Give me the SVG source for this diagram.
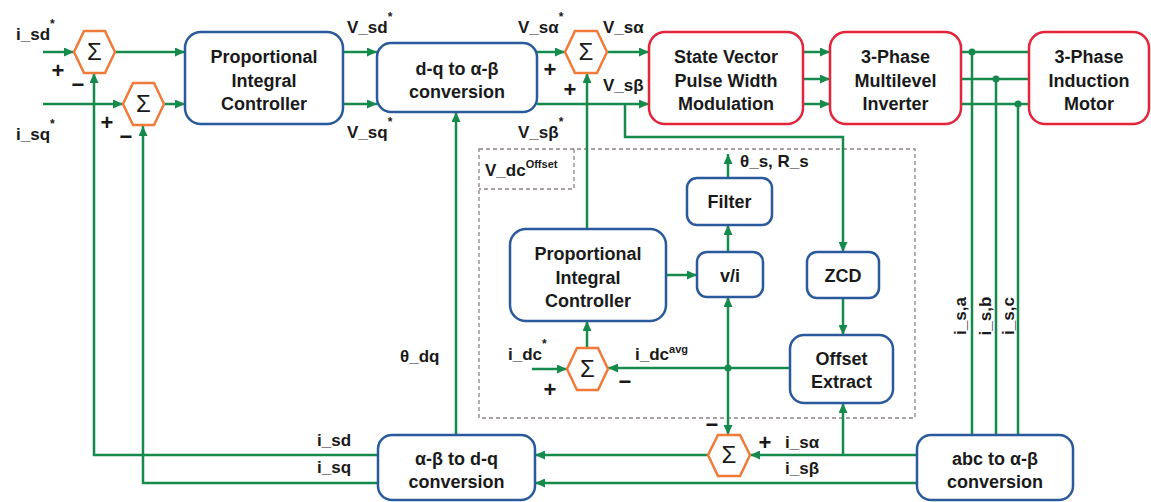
<svg xmlns="http://www.w3.org/2000/svg" width="1151" height="502" viewBox="0 0 1151 502">
<style>
.bb{fill:#fff;stroke:#2b5a9c;stroke-width:2.5}
.rb{fill:#fff;stroke:#e3243a;stroke-width:2.5}
.hx{fill:#fff;stroke:#f07a38;stroke-width:2.5}
.ln{fill:none;stroke:#168a4c;stroke-width:2.5}
.ar{marker-end:url(#ah)}
.t{font-family:"Liberation Sans",Arial,sans-serif;font-weight:bold;font-size:18px;fill:#1a1a1a;text-anchor:middle}
.l{font-family:"Liberation Sans",Arial,sans-serif;font-weight:bold;font-size:17px;fill:#1a1a1a}
.pm{font-family:"Liberation Sans",Arial,sans-serif;font-weight:bold;font-size:22px;fill:#1a1a1a;text-anchor:middle}
.s{font-family:"Liberation Sans",Arial,sans-serif;font-size:24px;fill:#1a1a1a;text-anchor:middle}
.dot{fill:#168a4c}
.dash{fill:none;stroke:#8f8288;stroke-width:1.3;stroke-dasharray:4 3}
</style>
<defs>
<marker id="ah" markerUnits="userSpaceOnUse" markerWidth="10" markerHeight="9" refX="10" refY="4.5" orient="auto">
<path d="M0,0 L10,4.5 L0,9 z" fill="#168a4c"/>
</marker>
</defs>

<g id="dashed-region">
<rect class="dash" x="479" y="149" width="436" height="269"/>
<path class="dash" d="M574,149 V189 H479"/>
<text class="l" x="485" y="176">V_dc<tspan font-size="11" dy="-8">Offset</tspan></text>
</g>

<g id="connectors">
<path class="ln ar" d="M43,52 H74"/>
<path class="ln ar" d="M43,104 H123"/>
<path class="ln ar" d="M115,52 H185"/>
<path class="ln ar" d="M164,104 H185"/>
<path class="ln ar" d="M343,52 H377"/>
<path class="ln ar" d="M343,104 H377"/>
<path class="ln ar" d="M537,52 H565"/>
<path class="ln ar" d="M607,52 H649"/>
<path class="ln ar" d="M537,104 H649"/>
<path class="ln ar" d="M625,104 V137 H843 V252"/>
<path class="ln ar" d="M803,52 H830"/>
<path class="ln ar" d="M803,79 H830"/>
<path class="ln ar" d="M803,104 H830"/>
<path class="ln" d="M961,52 H1029"/>
<path class="ln" d="M961,79 H1029"/>
<path class="ln" d="M961,104 H1029"/>
<path class="ln" d="M972,52 V435"/>
<path class="ln" d="M996,79 V435"/>
<path class="ln" d="M1018,104 V435"/>
<path class="ln ar" d="M378,455 H94 V73"/>
<path class="ln ar" d="M378,483 H143 V126"/>
<path class="ln ar" d="M456,435 V112"/>
<path class="ln ar" d="M587,229 V73"/>
<path class="ln ar" d="M666,275 H697"/>
<path class="ln ar" d="M728,252 V225"/>
<path class="ln ar" d="M728,178 V154"/>
<path class="ln ar" d="M843,298 V335"/>
<path class="ln ar" d="M790,368 H608"/>
<path class="ln ar" d="M532,369 H567"/>
<path class="ln ar" d="M587,348 V321"/>
<path class="ln ar" d="M728,368 V297"/>
<path class="ln ar" d="M728,368 V435"/>
<path class="ln ar" d="M917,455 H750"/>
<path class="ln ar" d="M843,455 V403"/>
<path class="ln ar" d="M708,455 H535"/>
<path class="ln ar" d="M917,483 H535"/>
<circle class="dot" cx="972" cy="52" r="3.5"/>
<circle class="dot" cx="996" cy="79" r="3.5"/>
<circle class="dot" cx="1018" cy="104" r="3.5"/>
<circle class="dot" cx="728" cy="368" r="3.5"/>
</g>

<g id="sum1"><polygon class="hx" points="74,52 84,31 105,31 115,52 105,73 84,73"/><text class="s" x="94.5" y="60">Σ</text></g>
<g id="sum2"><polygon class="hx" points="123,104 133,83 154,83 164,104 154,125 133,125"/><text class="s" x="143.5" y="112">Σ</text></g>
<g id="sum3"><polygon class="hx" points="565,52 575,31 597,31 607,52 597,73 575,73"/><text class="s" x="586" y="60">Σ</text></g>
<g id="sum4"><polygon class="hx" points="708,455 718,435 740,435 750,455 740,476 718,476"/><text class="s" x="729" y="463">Σ</text></g>
<g id="sum5"><polygon class="hx" points="567,369 577,348 598,348 608,369 598,390 577,390"/><text class="s" x="587.5" y="377">Σ</text></g>

<g id="pi1"><rect class="bb" x="185" y="32" width="158" height="92" rx="16"/>
<text class="t" x="264" y="63">Proportional</text><text class="t" x="264" y="87">Integral</text><text class="t" x="264" y="110">Controller</text></g>
<g id="dq2ab"><rect class="bb" x="377" y="43" width="160" height="69" rx="14"/>
<text class="t" x="457" y="75">d-q to α-β</text><text class="t" x="457" y="98">conversion</text></g>
<g id="svpwm"><rect class="rb" x="649" y="32" width="154" height="92" rx="16"/>
<text class="t" x="726" y="63">State Vector</text><text class="t" x="726" y="87">Pulse Width</text><text class="t" x="726" y="110">Modulation</text></g>
<g id="inverter"><rect class="rb" x="830" y="32" width="131" height="92" rx="16"/>
<text class="t" x="895.5" y="63">3-Phase</text><text class="t" x="895.5" y="87">Multilevel</text><text class="t" x="895.5" y="110">Inverter</text></g>
<g id="motor"><rect class="rb" x="1029" y="32" width="120" height="92" rx="16"/>
<text class="t" x="1089" y="63">3-Phase</text><text class="t" x="1089" y="87">Induction</text><text class="t" x="1089" y="110">Motor</text></g>
<g id="filter"><rect class="bb" x="687" y="178" width="85" height="47" rx="10"/><text class="t" x="729.5" y="208">Filter</text></g>
<g id="vi"><rect class="bb" x="697" y="252" width="66" height="45" rx="10"/><text class="t" x="730" y="282">v/i</text></g>
<g id="pi2"><rect class="bb" x="510" y="229" width="156" height="92" rx="16"/>
<text class="t" x="588" y="260">Proportional</text><text class="t" x="588" y="284">Integral</text><text class="t" x="588" y="307">Controller</text></g>
<g id="zcd"><rect class="bb" x="807" y="252" width="72" height="46" rx="10"/><text class="t" x="843" y="282">ZCD</text></g>
<g id="offset"><rect class="bb" x="790" y="335" width="103" height="68" rx="14"/>
<text class="t" x="841.5" y="365">Offset</text><text class="t" x="841.5" y="388">Extract</text></g>
<g id="ab2dq"><rect class="bb" x="378" y="435" width="157" height="65" rx="14"/>
<text class="t" x="456.5" y="465">α-β to d-q</text><text class="t" x="456.5" y="488">conversion</text></g>
<g id="abc2ab"><rect class="bb" x="917" y="435" width="156" height="65" rx="14"/>
<text class="t" x="995" y="465">abc to α-β</text><text class="t" x="995" y="488">conversion</text></g>

<g id="labels">
<text class="l" x="16" y="40">i_sd<tspan font-size="12" dy="-12">*</tspan></text>
<text class="l" x="16" y="140">i_sq<tspan font-size="12" dy="-12">*</tspan></text>
<text class="pm" x="58" y="78">+</text>
<text class="pm" x="78" y="92">−</text>
<text class="pm" x="107" y="130">+</text>
<text class="pm" x="126" y="144">−</text>
<text class="l" x="347" y="33">V_sd<tspan font-size="12" dy="-12">*</tspan></text>
<text class="l" x="347" y="138">V_sq<tspan font-size="12" dy="-12">*</tspan></text>
<text class="l" x="518" y="33">V_sα<tspan font-size="12" dy="-12">*</tspan></text>
<text class="l" x="603" y="33">V_sα</text>
<text class="pm" x="550" y="77">+</text>
<text class="pm" x="570" y="97">+</text>
<text class="l" x="603" y="91">V_sβ</text>
<text class="l" x="518" y="138">V_sβ<tspan font-size="12" dy="-12">*</tspan></text>
<text class="l" x="740" y="167">θ_s, R_s</text>
<text class="l" x="400" y="362">θ_dq</text>
<text class="l" x="508" y="360">i_dc<tspan font-size="12" dy="-12">*</tspan></text>
<text class="pm" x="550" y="397">+</text>
<text class="pm" x="625" y="389">−</text>
<text class="l" x="635" y="360">i_dc<tspan font-size="11" dy="-7">avg</tspan></text>
<text class="pm" x="712" y="432">−</text>
<text class="pm" x="765" y="450">+</text>
<text class="l" x="785" y="448">i_sα</text>
<text class="l" x="785" y="474">i_sβ</text>
<text class="l" x="317" y="446">i_sd</text>
<text class="l" x="317" y="473">i_sq</text>
<text class="l" transform="translate(966,316) rotate(-90)" text-anchor="middle">i_s,a</text>
<text class="l" transform="translate(991,316) rotate(-90)" text-anchor="middle">i_s,b</text>
<text class="l" transform="translate(1014,316) rotate(-90)" text-anchor="middle">i_s,c</text>
</g>
</svg>
